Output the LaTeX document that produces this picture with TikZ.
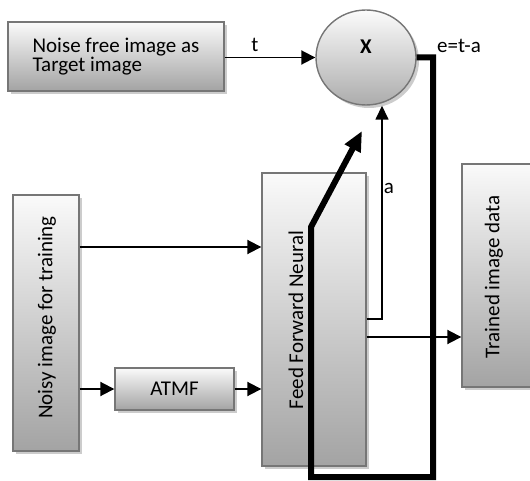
\documentclass[tikz,border=0pt]{standalone}
\usepackage{fontspec}
\setmainfont{Carlito}
\usetikzlibrary{arrows.meta,shadows,shapes.geometric}
\definecolor{bord}{RGB}{118,118,118}
\begin{document}
\begin{tikzpicture}[x=1pt,y=-1pt,
  box/.style={draw=bord, line width=1.4pt, top color=gray!4, bottom color=gray!72,
    drop shadow={shadow xshift=3pt, shadow yshift=-3pt, fill=gray!40, opacity=1},
    inner sep=0pt, font=\fontsize{21}{19.5}\selectfont},
  lbl/.style={inner sep=0pt, font=\fontsize{21}{19.5}\selectfont},
  arr/.style={line width=1.9pt, -{Triangle[length=14pt,width=14pt]}},
  thinarr/.style={line width=1.5pt, -{Triangle[length=14pt,width=13pt]}},
  fb/.style={line width=6pt, line join=miter, -{Triangle[length=20pt,width=17pt]}}
]
\useasboundingbox (0,0) rectangle (530,481);

% boxes
\node[box, minimum width=216pt, minimum height=69pt, align=left] (target) at (116,56.5)
  {Noise free image as\\Target image};
\node[box, ellipse, minimum width=100pt, minimum height=95pt, top color=gray!3, bottom color=gray!65] (sum) at (366,57.5) {};
\node[lbl, font=\fontsize{21}{19.5}\selectfont\bfseries] (x) at (366,47) {X};
\node[box, minimum width=66pt, minimum height=256pt] (noisy) at (46,323) {};
\node[lbl, rotate=90] (noisytxt) at (47,317.5) {Noisy image for training};
\node[box, minimum width=119pt, minimum height=42pt] (atmf) at (174.5,389) {ATMF};
\node[box, minimum width=104pt, minimum height=293pt] (ffn) at (314,319.5) {};
\node[lbl, rotate=90] (ffntxt) at (296,320) {Feed Forward Neural};
\node[box, minimum width=70pt, minimum height=223pt] (trained) at (497,275.5) {};
\node[lbl, rotate=90] (trainedtxt) at (494,277) {Trained image data};

% labels
\node[lbl] (tlab) at (255,45) {t};
\node[lbl] (elab) at (459,46) {e=t-a};
\node[lbl] (alab) at (389,188) {a};

% connectors
\draw[arr] (target.east |- sum.west) -- (sum.west);
\draw[arr] (noisy.east |- 0,247) -- (ffn.west |- 0,247);
\draw[arr] (noisy.east |- atmf.west) -- (atmf.west);
\draw[arr] (atmf.east) -- (atmf.east -| ffn.west);
\draw[arr] (ffn.east |- 0,337) -- (trained.west |- 0,337);
\coordinate (aturn) at (382,319);
\draw[thinarr] (ffn.east |- aturn) -- (aturn) -- (aturn |- sum.south);

% error feedback
\coordinate (e1) at (433,57.5);
\coordinate (e2) at (433,477);
\coordinate (e3) at (311,477);
\coordinate (e4) at (311,227);
\coordinate (e5) at (362,131);
\draw[fb] (sum.east) -- (e1) -- (e2) -- (e3) -- (e4) -- (e5);
\end{tikzpicture}
\end{document}
